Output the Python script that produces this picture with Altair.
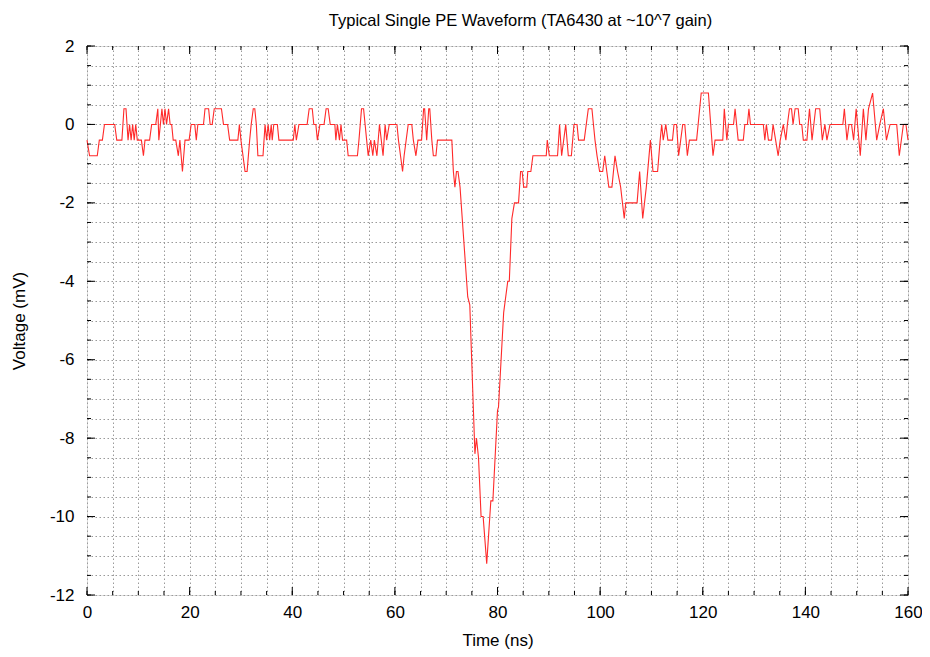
import altair as alt
import pandas as pd

# waveform vertices (time in ns, voltage in mV)
time_ns = [0, 0.5, 2.0, 2.4, 3.0, 3.4, 5.4, 5.8, 6.8, 7.2, 7.6, 8.0, 8.3, 8.6, 8.9, 9.2, 9.5, 9.8, 10.6, 11.0,
           11.3, 12.2, 12.6, 13.4, 13.8, 14.0, 14.6, 14.9, 15.2, 15.5, 15.9, 16.2, 16.5, 16.8, 17.3, 17.8, 18.1, 18.6, 19.1, 19.9,
           20.3, 21.0, 21.3, 21.6, 22.7, 23.0, 23.7, 24.0, 24.4, 24.8, 26.2, 26.6, 27.4, 27.8, 29.4, 29.7, 30.0, 30.4, 30.8, 31.2,
           31.7, 32.0, 32.4, 32.7, 33.0, 33.3, 34.3, 34.7, 35.0, 35.3, 35.6, 35.9, 36.1, 36.4, 37.1, 37.4, 40.2, 40.5, 40.8, 41.3,
           42.9, 43.3, 43.9, 44.2, 44.6, 44.9, 45.4, 46.2, 46.6, 47.0, 47.4, 48.3, 48.5, 48.8, 49.2, 49.5, 49.8, 50.6, 50.9, 52.7,
           53.0, 53.5, 53.9, 54.2, 54.5, 54.8, 55.3, 55.7, 56.0, 56.5, 57.0, 57.7, 58.1, 58.4, 58.9, 60.4, 60.7, 61.1, 61.5, 61.8,
           62.2, 62.6, 63.3, 63.6, 64.1, 64.5, 65.2, 65.6, 65.8, 66.2, 66.6, 66.8, 67.2, 67.5, 68.0, 68.3, 71.1, 71.4, 71.7, 72.0,
           72.3, 72.7, 74.2, 74.6, 75.6, 75.9, 76.3, 76.8, 77.2, 77.9, 78.7, 79.1, 80.0, 80.2, 81.2, 82.0, 82.3, 82.8, 83.3, 84.1,
           84.5, 84.8, 85.1, 85.7, 85.9, 86.5, 86.9, 89.5, 89.7, 90.1, 91.7, 92.1, 92.5, 93.3, 93.8, 94.4, 94.9, 95.5, 95.8, 96.9,
           97.3, 97.7, 98.4, 98.7, 99.0, 99.4, 99.9, 100.5, 100.9, 101.3, 101.7, 102.3, 102.9, 103.4, 104.0, 104.7, 105.0, 107.2, 107.7, 108.3,
           109.0, 109.8, 110.3, 111.2, 111.7, 112.0, 112.3, 112.8, 113.2, 114.1, 114.4, 114.9, 115.3, 115.7, 116.1, 116.5, 117.0, 117.4, 118.8, 119.4,
           119.7, 121.1, 122.0, 122.4, 123.9, 124.2, 124.7, 125.0, 126.0, 126.3, 126.9, 127.9, 128.2, 128.7, 129.0, 129.3, 131.8, 132.1, 132.4, 132.8,
           133.4, 133.7, 134.2, 134.7, 135.1, 135.7, 136.2, 136.5, 136.9, 137.3, 137.6, 138.0, 138.6, 138.9, 139.3, 139.6, 140.3, 140.8, 141.3, 142.0,
           142.8, 143.3, 143.8, 144.2, 144.8, 147.3, 147.6, 148.1, 148.5, 149.0, 149.4, 149.9, 150.7, 151.3, 151.8, 152.3, 153.1, 153.9, 154.5, 155.2,
           155.8, 156.5, 157.8, 158.3, 159.1, 159.6, 160.0]

voltage_mv = [-0.4, -0.8, -0.8, -0.4, -0.4, 0, 0, -0.4, -0.4, 0.4, 0.4, -0.4, 0, -0.4, 0, -0.4, 0, -0.4, -0.4, -0.8,
              -0.4, -0.4, 0, 0, 0.4, -0.4, 0.4, 0, 0.4, 0, 0.4, 0, 0, -0.4, -0.4, -0.8, -0.4, -1.2, -0.4, -0.4,
              0, 0, -0.4, 0, 0, 0.4, 0.4, 0, 0, 0.4, 0.4, 0, 0, -0.4, -0.4, 0, -0.4, -0.8, -1.2, -1.2,
              -0.4, 0, 0.4, 0.4, 0, -0.8, -0.8, 0, -0.4, 0, -0.4, 0, -0.4, 0, 0, -0.4, -0.4, 0, -0.4, 0,
              0, 0.4, 0.4, 0, 0, -0.4, 0, 0, 0.4, 0.4, 0, 0, -0.4, 0, -0.4, 0, -0.4, -0.4, -0.8, -0.8,
              -0.4, 0.4, 0.4, 0, -0.4, -0.8, -0.4, -0.8, -0.4, -0.8, 0, -0.8, 0, -0.4, 0, 0, -0.4, -0.8, -1.2, -0.8,
              -0.4, 0, 0, -0.4, -0.8, -0.4, -0.4, 0.4, 0.4, -0.4, 0.4, 0.4, -0.4, -0.8, -0.8, -0.4, -0.4, -1.2, -1.6, -1.2,
              -1.2, -1.6, -4.4, -4.6, -8.4, -8.0, -8.5, -10.0, -10.0, -11.2, -9.6, -9.6, -7.3, -7.2, -4.8, -4.0, -4.0, -2.4, -2.0, -2.0,
              -1.2, -1.2, -1.6, -1.6, -1.2, -1.2, -0.8, -0.8, -0.4, -0.8, -0.8, 0, -0.8, 0, -0.8, -0.8, 0, 0, -0.4, -0.4,
              0, 0.4, 0.4, 0, -0.4, -0.8, -1.2, -1.2, -0.8, -1.2, -1.6, -1.6, -0.8, -1.2, -1.6, -2.4, -2.0, -2.0, -1.2, -2.4,
              -1.6, -0.4, -1.2, -1.2, -0.4, 0, -0.4, 0, -0.4, -0.4, 0, 0, -0.8, -0.4, 0, 0, -0.8, -0.4, -0.4, 0.4,
              0.8, 0.8, -0.8, -0.4, -0.4, 0.4, -0.4, 0, 0, 0.4, -0.4, -0.4, 0, 0, 0.4, 0, 0, -0.4, 0, -0.4,
              -0.4, 0, -0.4, -0.8, -0.4, 0, -0.4, 0, 0.4, 0.4, 0, 0.4, 0.4, 0, 0, -0.4, -0.4, 0.4, -0.4, 0.4,
              0.4, -0.4, 0, -0.4, 0, 0, 0.4, -0.4, 0, 0, -0.4, 0.4, -0.8, 0.4, -0.4, 0.4, 0.8, -0.4, 0, 0.4,
              -0.4, 0, 0, -0.8, 0, 0, -0.4]

# axis tick positions
x_minor_ticks = list(range(0, 161, 5))
x_major_ticks = list(range(0, 161, 20))
y_minor_ticks = [-12 + 0.5 * i for i in range(29)]
y_major_ticks = list(range(-12, 3, 2))

title_text = "Typical Single PE Waveform (TA6430 at ~10^7 gain)"
x_title = "Time (ns)"
y_title = "Voltage (mV)"

FONT = "Liberation Sans"
W, H = 821, 549

wave = pd.DataFrame({"t": time_ns, "v": voltage_mv})
xminor = pd.DataFrame({"t": x_minor_ticks})
xmajor = pd.DataFrame({"t": x_major_ticks})
yminor = pd.DataFrame({"v": y_minor_ticks})
ymajor = pd.DataFrame({"v": y_major_ticks})

xaxis = alt.Axis(values=x_minor_ticks,
                 labelExpr="datum.value % 20 === 0 ? '' + datum.value : ''",
                 grid=True, gridDash=[1.5, 2.5], gridColor="#9a9a9a", gridWidth=1,
                 ticks=False, tickSize=0, domain=False,
                 labelFont=FONT, labelFontSize=17, labelColor="black", labelPadding=9,
                 labelFlush=False, labelOverlap=False,
                 title=x_title, titleFont=FONT, titleFontSize=17, titleFontWeight="normal",
                 titleColor="black", titlePadding=12)
yaxis = alt.Axis(values=y_minor_ticks,
                 labelExpr="datum.value % 2 === 0 ? '' + datum.value : ''",
                 grid=True, gridDash=[1.5, 2.5], gridColor="#9a9a9a", gridWidth=1,
                 ticks=False, tickSize=0, domain=False,
                 labelFont=FONT, labelFontSize=17, labelColor="black", labelPadding=13,
                 labelFlush=False, labelOverlap=False,
                 title=y_title, titleFont=FONT, titleFontSize=17, titleFontWeight="normal",
                 titleColor="black", titlePadding=21)

xenc = alt.X("t:Q", scale=alt.Scale(domain=[0, 160], nice=False, zero=False), axis=xaxis)
yenc = alt.Y("v:Q", scale=alt.Scale(domain=[-12, 2], nice=False, zero=False), axis=yaxis)

line = alt.Chart(wave).mark_line(color="#ff2a2a", strokeWidth=1.1).encode(x=xenc, y=yenc)

def xticks(df, length):
    bottom = alt.Chart(df).mark_rule(color="black", strokeWidth=1).encode(
        x=xenc, y=alt.value(H), y2=alt.value(H - length))
    top = alt.Chart(df).mark_rule(color="black", strokeWidth=1).encode(
        x=xenc, y=alt.value(0), y2=alt.value(length))
    return [bottom, top]

def yticks(df, length):
    left = alt.Chart(df).mark_rule(color="black", strokeWidth=1).encode(
        y=yenc, x=alt.value(0), x2=alt.value(length))
    right = alt.Chart(df).mark_rule(color="black", strokeWidth=1).encode(
        y=yenc, x=alt.value(W), x2=alt.value(W - length))
    return [left, right]

layers = [line] + xticks(xminor, 4) + xticks(xmajor, 8) + yticks(yminor, 4) + yticks(ymajor, 8)

chart = alt.layer(*layers).properties(
    width=W, height=H,
    autosize=alt.AutoSizeParams(type="none"),
    padding={"left": 79, "top": 38, "right": 14, "bottom": 54},
    title=alt.TitleParams(text=title_text, font=FONT, fontSize=16.5, fontWeight="normal",
                          color="black", anchor="middle", frame="group", baseline="bottom",
                          offset=17, dx=23, dy=25),
).configure_view(stroke="black", strokeWidth=1.5).configure(background="white")

chart.save("out.html", embed_options={"renderer": "svg", "actions": False})
